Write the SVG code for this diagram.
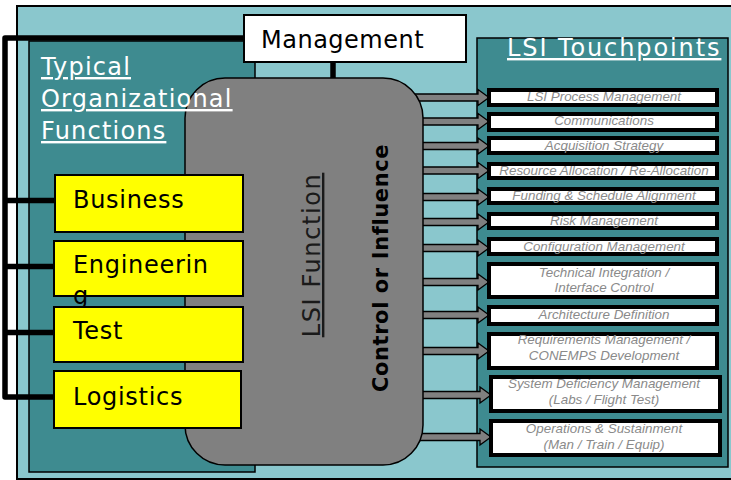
<svg xmlns="http://www.w3.org/2000/svg" width="731" height="480" viewBox="0 0 731 480">
  <style>
    .panel { fill: #3e8b90; stroke: #000; stroke-width: 1.5; }
    .title { font-family: "DejaVu Sans", Verdana, sans-serif; font-size: 24px; fill: #ffffff; text-decoration: underline; }
    .org rect { fill: #ffff00; stroke: #000; stroke-width: 2; }
    .org text { font-family: "DejaVu Sans", Verdana, sans-serif; font-size: 24px; fill: #000; letter-spacing: 0.7px; }
    .tp rect { fill: #ffffff; stroke: #000; stroke-width: 4; }
    .tp text { font-family: "Liberation Sans", Arial, sans-serif; font-style: italic; font-size: 13.4px; fill: #8a8a8a; text-anchor: middle; }
    .arrow { fill: #808080; stroke: #000; stroke-width: 1.3; stroke-linejoin: miter; }
    .link { fill: none; stroke: #000; stroke-width: 5.5; stroke-linejoin: round; stroke-linecap: butt; }
  </style>
  <defs>
    <!-- block arrow pointing right, tip at x=0, centred on y=0 -->
    <path id="blockArrow" d="M -74 -3.5 L -11 -3.5 L -11 -8 L 0 0 L -11 8 L -11 3.5 L -74 3.5 Z"/>
  </defs>

  <!-- page background -->
  <rect x="0" y="0" width="731" height="480" fill="#ffffff"/>
  <rect x="17" y="6" width="730" height="473" fill="#8ac7cd" stroke="#000" stroke-width="2"/>

  <!-- panels -->
  <g id="org-panel">
    <rect class="panel" x="29" y="41" width="226" height="431"/>
  </g>
  <g id="touchpoints-panel">
    <rect class="panel" x="477" y="38" width="251" height="429"/>
    <text class="title" x="507" y="56" style="letter-spacing:1.9px">LSI Touchpoints</text>
  </g>

  <!-- connectors -->
  <g id="connectors">
    <polyline class="link" points="243,38 5,38 5,397 55,397"/>
    <line class="link" x1="5" y1="200.5" x2="55" y2="200.5"/>
    <line class="link" x1="5" y1="266.5" x2="55" y2="266.5"/>
    <line class="link" x1="5" y1="332.5" x2="55" y2="332.5"/>
    <line class="link" x1="333" y1="62" x2="333" y2="79"/>
    <use href="#blockArrow" class="arrow" transform="translate(489,97.5)"/>
    <use href="#blockArrow" class="arrow" transform="translate(489,121.5)"/>
    <use href="#blockArrow" class="arrow" transform="translate(489,146)"/>
    <use href="#blockArrow" class="arrow" transform="translate(489,170.5)"/>
    <use href="#blockArrow" class="arrow" transform="translate(489,197)"/>
    <use href="#blockArrow" class="arrow" transform="translate(489,222)"/>
    <use href="#blockArrow" class="arrow" transform="translate(489,248)"/>
    <use href="#blockArrow" class="arrow" transform="translate(489,282)"/>
    <use href="#blockArrow" class="arrow" transform="translate(489,315)"/>
    <use href="#blockArrow" class="arrow" transform="translate(489,351)"/>
    <use href="#blockArrow" class="arrow" transform="translate(491,395)"/>
    <use href="#blockArrow" class="arrow" transform="translate(491,437)"/>
  </g>

  <!-- central LSI function block -->
  <g id="lsi-function">
    <rect x="185" y="78" width="238" height="387" rx="40" ry="40" fill="#808080" stroke="#000" stroke-width="1.5"/>
    <text transform="translate(320,255) rotate(-90)" text-anchor="middle" font-family="DejaVu Sans, Verdana, sans-serif" font-size="24" fill="#1a1a1a" letter-spacing="1.6" text-decoration="underline">LSI Function</text>
    <text transform="translate(388,268) rotate(-90)" text-anchor="middle" font-family="DejaVu Sans, Verdana, sans-serif" font-size="21" font-weight="bold" fill="#000" letter-spacing="0.6">Control or Influence</text>
  </g>

  <!-- heading of the organizational panel, printed over the central block -->
  <g id="org-panel-title">
    <text class="title" style="letter-spacing:1.2px"><tspan x="41" y="75">Typical</tspan><tspan x="41" y="107">Organizational</tspan><tspan x="41" y="139">Functions</tspan></text>
  </g>

  <!-- management -->
  <g id="management">
    <rect x="244" y="15" width="222" height="47" fill="#ffffff" stroke="#000" stroke-width="2"/>
    <text x="261" y="48" font-family="DejaVu Sans, Verdana, sans-serif" font-size="24" letter-spacing="0.5" fill="#000">Management</text>
  </g>

  <!-- organizational functions -->
  <g id="business" class="org">
    <rect x="55" y="175" width="188" height="57"/>
    <text x="73" y="208">Business</text>
  </g>
  <g id="engineering" class="org">
    <rect x="54" y="241" width="189" height="55"/>
    <text><tspan x="73" y="273">Engineerin</tspan><tspan x="73" y="303.5">g</tspan></text>
  </g>
  <g id="test" class="org">
    <rect x="54" y="307" width="189" height="55"/>
    <text x="73" y="339">Test</text>
  </g>
  <g id="logistics" class="org">
    <rect x="54" y="371" width="187" height="57"/>
    <text x="73" y="405">Logistics</text>
  </g>

  <!-- touchpoints -->
  <g id="tp-process" class="tp">
    <rect x="489" y="90" width="228" height="15"/>
    <text x="604" y="101">LSI Process Management</text>
  </g>
  <g id="tp-communications" class="tp">
    <rect x="489" y="114" width="228" height="16"/>
    <text x="604" y="125">Communications</text>
  </g>
  <g id="tp-acquisition" class="tp">
    <rect x="489" y="138" width="228" height="15"/>
    <text x="604" y="149.5">Acquisition Strategy</text>
  </g>
  <g id="tp-resource" class="tp">
    <rect x="489" y="164" width="228" height="14"/>
    <text x="604" y="174.5">Resource Allocation / Re-Allocation</text>
  </g>
  <g id="tp-funding" class="tp">
    <rect x="489" y="189" width="228" height="14"/>
    <text x="604" y="200">Funding &amp; Schedule Alignment</text>
  </g>
  <g id="tp-risk" class="tp">
    <rect x="489" y="214" width="228" height="14"/>
    <text x="604" y="225">Risk Management</text>
  </g>
  <g id="tp-configuration" class="tp">
    <rect x="489" y="239" width="228" height="15"/>
    <text x="604" y="250.5">Configuration Management</text>
  </g>
  <g id="tp-technical" class="tp">
    <rect x="489" y="264" width="228" height="33"/>
    <text x="604" y="276.5">Technical Integration /<tspan x="604" y="292">Interface Control</tspan></text>
  </g>
  <g id="tp-architecture" class="tp">
    <rect x="489" y="307" width="228" height="17"/>
    <text x="604" y="319">Architecture Definition</text>
  </g>
  <g id="tp-requirements" class="tp">
    <rect x="489" y="334" width="228" height="34"/>
    <text x="604" y="344">Requirements Management /<tspan x="604" y="360">CONEMPS Development</tspan></text>
  </g>
  <g id="tp-deficiency" class="tp">
    <rect x="491" y="377" width="229" height="34"/>
    <text x="604" y="388">System Deficiency Management<tspan x="604" y="404">(Labs / Flight Test)</tspan></text>
  </g>
  <g id="tp-operations" class="tp">
    <rect x="491" y="421" width="229" height="34"/>
    <text x="604" y="433">Operations &amp; Sustainment<tspan x="604" y="449">(Man / Train / Equip)</tspan></text>
  </g>
</svg>
